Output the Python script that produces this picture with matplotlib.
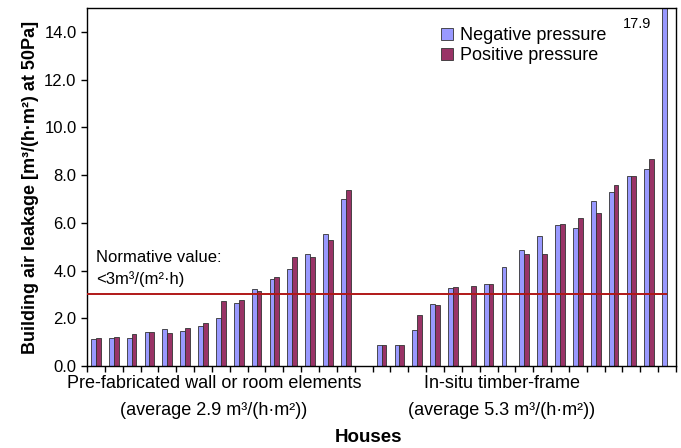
import numpy as np
import matplotlib.pyplot as plt

plt.rcParams['font.family'] = ['Liberation Sans', 'DejaVu Sans']

# air leakage per house, n50 based [m3/(h*m2)] - None = not measured
prefab_neg = [1.13, 1.19, 1.19, 1.44, 1.57, 1.47, 1.68, 2.03, 2.63, 3.21, 3.63, 4.08, 4.68, 5.54, 6.98]
prefab_pos = [1.16, 1.23, 1.33, 1.44, 1.37, 1.60, 1.81, 2.71, 2.75, 3.15, 3.73, 4.55, 4.55, 5.28, 7.39]
insitu_neg = [0.88, 0.88, 1.50, 2.58, 3.26, None, 3.43, 4.15, 4.84, 5.44, 5.89, 5.79, 6.91, 7.29, 7.97, 8.26, 17.9]
insitu_pos = [0.88, 0.88, 2.15, 2.54, 3.29, 3.36, 3.43, None, 4.70, 4.70, 5.95, 6.21, 6.40, 7.60, 7.97, 8.66, None]
normative = 3.0
y_ticks = [0.0, 2.0, 4.0, 6.0, 8.0, 10.0, 12.0, 14.0]

# one empty slot between the two groups
neg = np.array(prefab_neg + [None] + insitu_neg, dtype=float)
pos = np.array(prefab_pos + [None] + insitu_pos, dtype=float)
x = np.arange(len(neg))

fig = plt.figure(figsize=(6.81, 4.48), dpi=100)
ax = fig.add_axes([87 / 681, 1 - 366 / 448, 589 / 681, 358 / 448])

w = 0.27
ax.bar(x - w / 2, neg, w, color='#9999ff', edgecolor='#333333', linewidth=0.6, label='Negative pressure')
ax.bar(x + w / 2, pos, w, color='#993366', edgecolor='#333333', linewidth=0.6, label='Positive pressure')
ax.hlines(normative, -0.5, x[-1], color='#b01818', linewidth=1.4, zorder=3)

ax.set_xlim(-0.5, len(x) - 0.5)
ax.set_ylim(0, 15)
ax.set_xticks(np.arange(-0.5, len(x), 1))
ax.set_xticklabels([])
ax.set_yticks(y_ticks)
ax.set_yticklabels(['%.1f' % v for v in y_ticks], fontsize=12)
ax.tick_params(direction='out', length=4, width=1, colors='black')
for s in ax.spines.values():
    s.set_linewidth(1)

ax.set_ylabel('Building air leakage [m³/(h·m²) at 50Pa]', fontsize=13, fontweight='bold', labelpad=4)

ax.text(0.0, 4.55, 'Normative value:', fontsize=12, va='center')
ax.text(0.0, 3.65, '<3m³/(m²·h)', fontsize=12, va='center')

fig.text(637 / 681, 1 - 24 / 448, '17.9', fontsize=10.5, ha='center', va='center')

ax.legend(loc='upper left', bbox_to_anchor=(432 / 681, 1 - 18 / 448), bbox_transform=fig.transFigure,
          frameon=False, fontsize=13, handlelength=0.65, handleheight=0.65, handletextpad=0.4,
          labelspacing=0.16, borderpad=0)

fig.text(214 / 681, 1 - 384 / 448, 'Pre-fabricated wall or room elements', fontsize=13, ha='center', va='center')
fig.text(214 / 681, 1 - 410 / 448, '(average 2.9 m³/(h·m²))', fontsize=13, ha='center', va='center')
fig.text(502 / 681, 1 - 384 / 448, 'In-situ timber-frame', fontsize=13, ha='center', va='center')
fig.text(502 / 681, 1 - 410 / 448, '(average 5.3 m³/(h·m²))', fontsize=13, ha='center', va='center')
fig.text(368 / 681, 1 - 437 / 448, 'Houses', fontsize=13.5, fontweight='bold', ha='center', va='center')

fig.savefig('out.png', dpi=100)
